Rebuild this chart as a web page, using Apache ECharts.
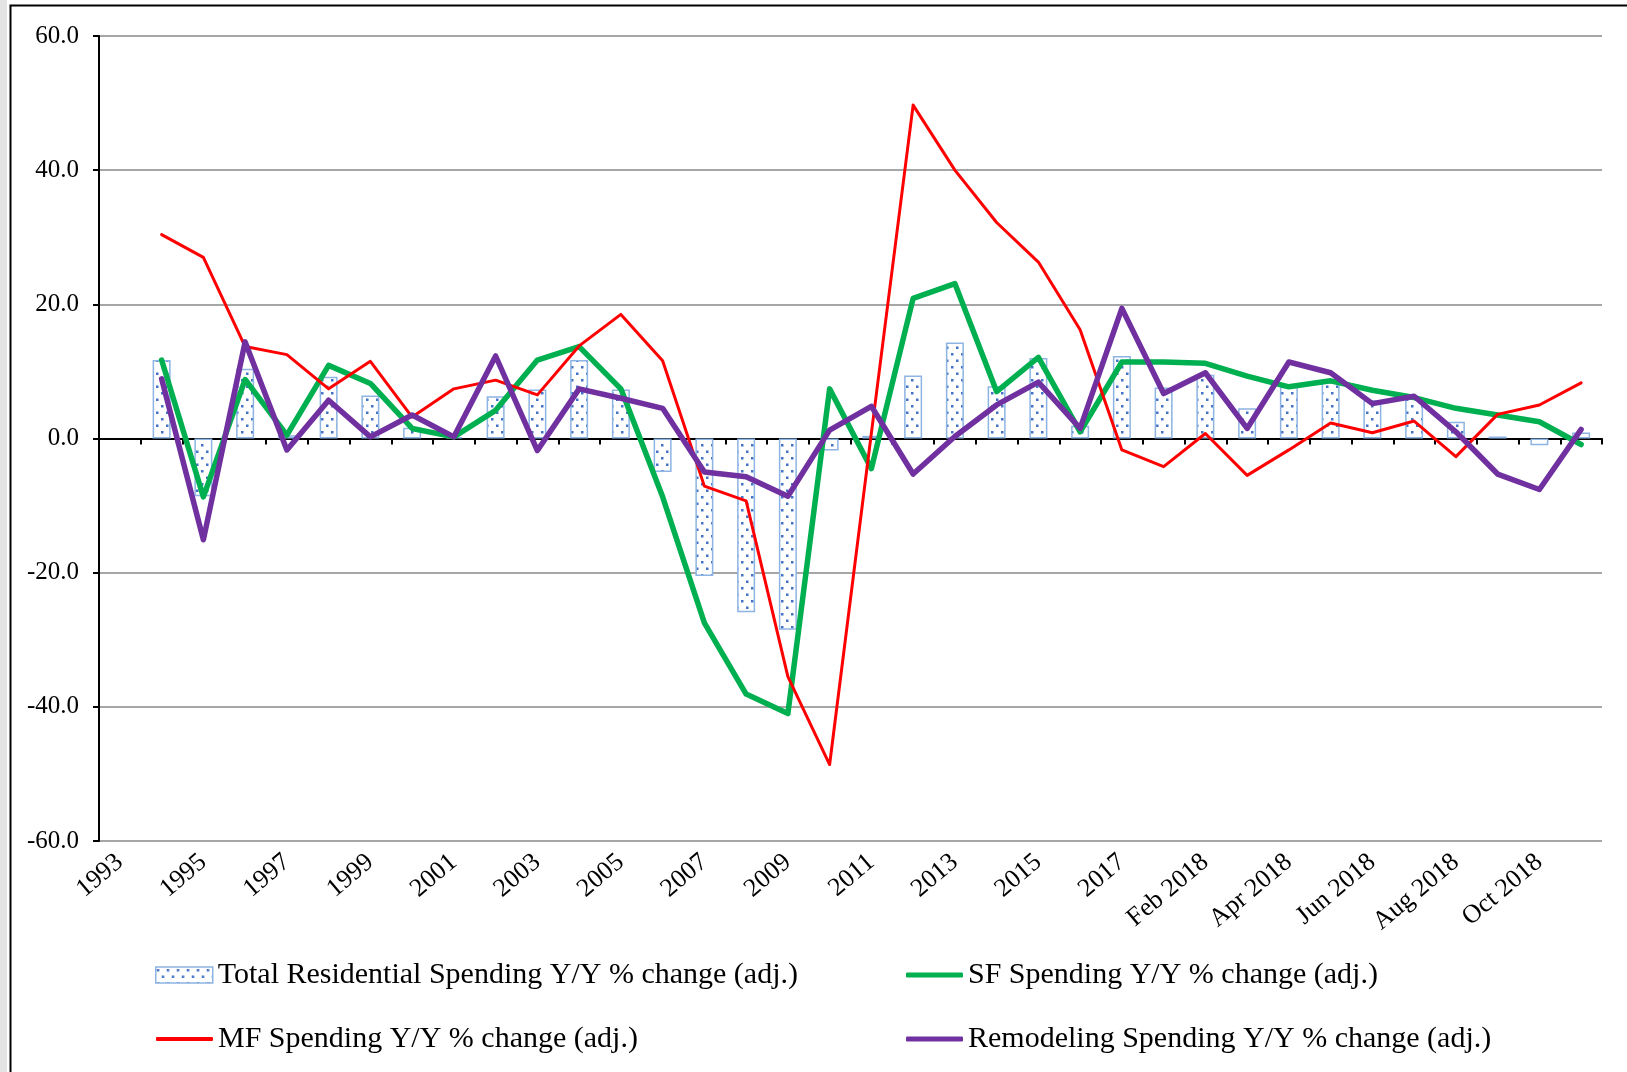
<!DOCTYPE html>
<html>
<head>
<meta charset="utf-8">
<title>Residential Spending Y/Y % change</title>
<script src="https://cdn.jsdelivr.net/npm/echarts@6/dist/echarts.min.js"></script>
<style>
  html, body { margin: 0; padding: 0; background: #ffffff; }
  #chart { width: 1627px; height: 1072px; }
</style>
</head>
<body>
<div id="chart"></div>
<script>
// Periods: annual 1993-2017, then monthly through Nov 2018
const categories = [
  '1993', '1994', '1995', '1996', '1997', '1998', '1999', '2000', '2001', '2002',
  '2003', '2004', '2005', '2006', '2007', '2008', '2009', '2010', '2011', '2012',
  '2013', '2014', '2015', '2016', '2017',
  'Jan 2018', 'Feb 2018', 'Mar 2018', 'Apr 2018', 'May 2018', 'Jun 2018',
  'Jul 2018', 'Aug 2018', 'Sep 2018', 'Oct 2018', 'Nov 2018'
];

// Y/Y % change (adj.)
const totalResidential = [
  null, 11.7, -8.6, 10.4, 0.5, 9.2, 6.4, 1.6, 0.2, 6.3,
  7.3, 11.7, 7.3, -5.0, -20.5, -25.9, -28.5, -1.8, 0.4, 9.4,
  14.3, 7.8, 12.0, 1.9, 12.3,
  7.6, 9.5, 4.5, 7.7, 8.4, 5.7, 6.0, 2.5, 0.3, -1.0, 0.9
];
const sfSpending = [
  null, 11.7, -8.7, 8.8, 0.5, 10.9, 8.2, 1.5, 0.25, 4.2,
  11.7, 13.7, 7.4, -8.7, -27.5, -38.1, -41.0, 7.4, -4.5, 20.9,
  23.1, 7.0, 12.1, 1.0, 11.4,
  11.4, 11.2, 9.3, 7.7, 8.6, 7.2, 6.1, 4.5, 3.5, 2.5, -0.9
];
const mfSpending = [
  null, 30.4, 27.0, 13.7, 12.5, 7.4, 11.5, 3.2, 7.4, 8.7,
  6.5, 13.8, 18.5, 11.6, -7.1, -9.3, -35.5, -48.6, 0.8, 49.7,
  40.0, 32.2, 26.3, 16.2, -1.7,
  -4.2, 0.75, -5.5, -1.7, 2.3, 0.85, 2.6, -2.7, 3.6, 5.0, 8.3
];
const remodelingSpending = [
  null, 8.9, -15.1, 14.4, -1.7, 5.7, 0.25, 3.5, 0.25, 12.3,
  -1.8, 7.4, 6.0, 4.5, -5.0, -5.7, -8.6, 1.25, 4.8, -5.3,
  0.3, 5.0, 8.4, 1.5, 19.4,
  6.7, 9.8, 1.5, 11.4, 9.8, 5.2, 6.3, 1.0, -5.3, -7.6, 1.35
];

const yTicks = { min: -60, max: 60, step: 20 };

const names = {
  total: 'Total Residential Spending Y/Y % change (adj.)',
  sf: 'SF Spending Y/Y % change (adj.)',
  mf: 'MF Spending Y/Y % change (adj.)',
  remodel: 'Remodeling Spending Y/Y % change (adj.)'
};

const colors = {
  total: '#8DB4E2',
  dots: '#4472C4',
  sf: '#00B050',
  mf: '#FF0000',
  remodel: '#7030A0'
};

const FONT = '"Liberation Serif", "Times New Roman", serif';

// Dotted fill used for the total-spending columns
function dottedPattern() {
  const c = document.createElement('canvas');
  c.width = 10; c.height = 13;
  const g = c.getContext('2d');
  g.fillStyle = '#ffffff';
  g.fillRect(0, 0, 10, 13);
  g.fillStyle = colors.dots;
  g.fillRect(1, 2, 2.5, 2.5);
  g.fillRect(6, 8.5, 2.5, 2.5);
  return c;
}
const barFill = { image: dottedPattern(), repeat: 'repeat' };

const chart = echarts.init(document.getElementById('chart'), null, { renderer: 'canvas' });

const legendText = { fontFamily: FONT, fontSize: 30, color: '#000000', lineHeight: 34 };

function legendFor(name, left, top, icon, w, h, itemStyle) {
  return {
    left: left, top: top,
    orient: 'horizontal',
    itemWidth: w, itemHeight: h,
    itemGap: 0,
    selectedMode: false,
    textStyle: Object.assign({ padding: [0, 0, 0, 0] }, legendText),
    data: [{ name: name, icon: icon, itemStyle: itemStyle }]
  };
}

chart.setOption({
  animation: false,
  backgroundColor: '#ffffff',
  graphic: [
    { type: 'rect', left: 0, top: 0, shape: { width: 7, height: 1072 },
      style: { fill: '#e4e4e4' }, silent: true },
    { type: 'rect', left: 8, top: 3, shape: { x: 0, y: 0, width: 1640, height: 1090 },
      style: { fill: 'none', stroke: '#000000', lineWidth: 2 }, silent: true, z: 100 }
  ],
  grid: { left: 99, right: 25, top: 36, bottom: 231, containLabel: false },
  legend: [
    legendFor(names.total, 150, 953, 'rect', 57, 16,
      { color: barFill, borderColor: colors.total, borderWidth: 1.5 }),
    legendFor(names.sf, 901, 953, 'roundRect', 57, 5, { color: colors.sf }),
    legendFor(names.mf, 151, 1017, 'roundRect', 57, 4, { color: colors.mf }),
    legendFor(names.remodel, 901, 1017, 'roundRect', 57, 5, { color: colors.remodel })
  ],
  xAxis: [
    {
      type: 'category',
      data: categories,
      boundaryGap: true,
      position: 'bottom',
      axisLine: { onZero: true, lineStyle: { color: '#000000', width: 2 } },
      axisTick: { show: true, alignWithLabel: false, interval: 0, length: 6,
                  lineStyle: { color: '#000000', width: 2 } },
      axisLabel: { show: false },
      splitLine: { show: false }
    },
    {
      type: 'category',
      data: categories,
      boundaryGap: true,
      position: 'bottom',
      axisLine: { show: false, onZero: false },
      axisTick: { show: false },
      axisLabel: {
        interval: 1, rotate: 40, margin: 18,
        fontFamily: FONT, fontSize: 26, color: '#000000'
      },
      splitLine: { show: false }
    }
  ],
  yAxis: {
    type: 'value',
    min: yTicks.min, max: yTicks.max, interval: yTicks.step,
    axisLine: { show: true, lineStyle: { color: '#000000', width: 2 } },
    axisTick: { show: true, length: 6, lineStyle: { color: '#000000', width: 2 } },
    axisLabel: {
      margin: 20, fontFamily: FONT, fontSize: 25, color: '#000000',
      formatter: v => v.toFixed(1)
    },
    splitLine: { show: true, lineStyle: { color: '#A6A6A6', width: 2 } }
  },
  series: [
    {
      name: names.total, type: 'bar', xAxisIndex: 0,
      data: totalResidential, barWidth: 18,
      itemStyle: { color: barFill, borderColor: colors.total, borderWidth: 1.5 },
      z: 2
    },
    {
      name: names.sf, type: 'line', xAxisIndex: 0,
      data: sfSpending, showSymbol: false, symbol: 'none',
      color: colors.sf,
      lineStyle: { color: colors.sf, width: 5.5, cap: 'round', join: 'round' },
      z: 3
    },
    {
      name: names.mf, type: 'line', xAxisIndex: 0,
      data: mfSpending, showSymbol: false, symbol: 'none',
      color: colors.mf,
      lineStyle: { color: colors.mf, width: 3, cap: 'round', join: 'round' },
      z: 4
    },
    {
      name: names.remodel, type: 'line', xAxisIndex: 0,
      data: remodelingSpending, showSymbol: false, symbol: 'none',
      color: colors.remodel,
      lineStyle: { color: colors.remodel, width: 5.5, cap: 'round', join: 'round' },
      z: 5
    }
  ]
});
</script>
</body>
</html>
